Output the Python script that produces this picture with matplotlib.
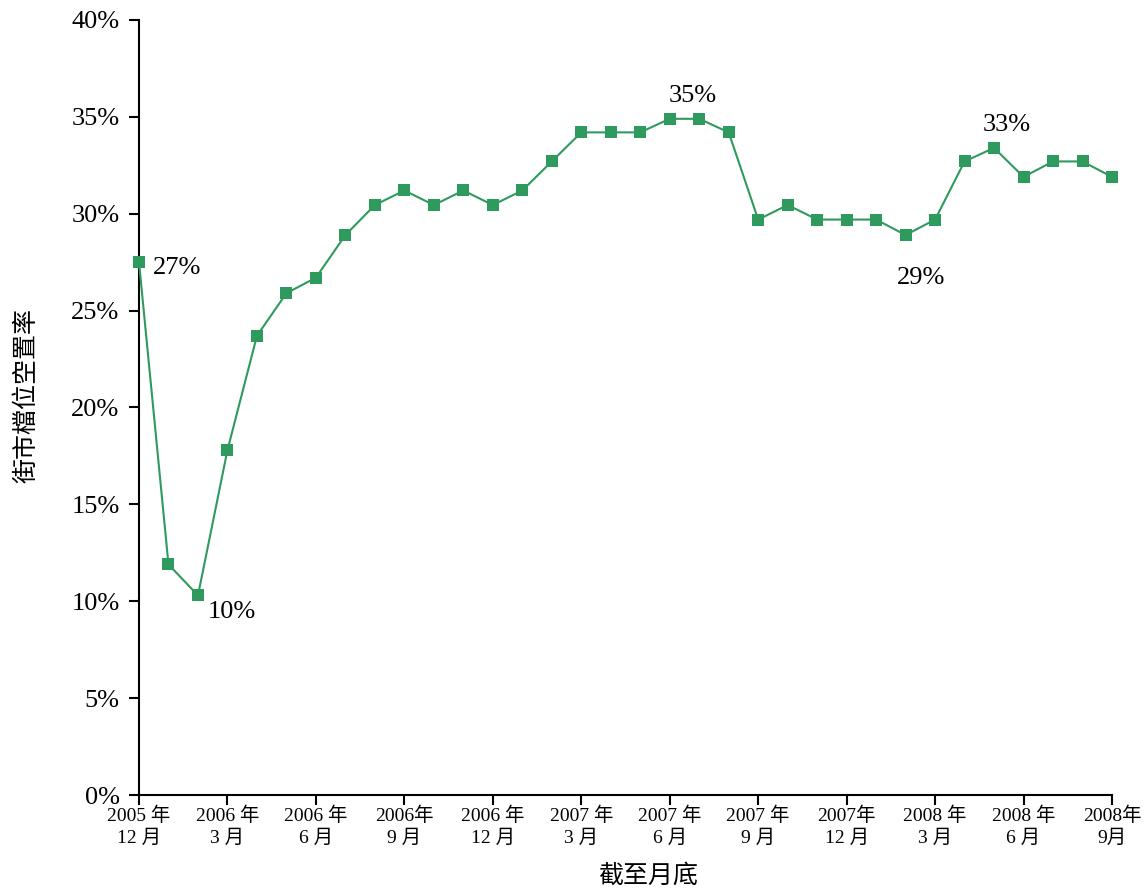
import matplotlib
matplotlib.use("Agg")
import matplotlib.pyplot as plt

fam = ['Liberation Serif', 'Noto Sans CJK TC']
plt.rcParams['font.family'] = fam

months = list(range(34))
vacancy = [27.5, 11.9, 10.3, 17.8, 23.7, 25.9, 26.7, 28.9, 30.45, 31.2,
           30.45, 31.2, 30.45, 31.2, 32.7, 34.2, 34.2, 34.2, 34.9, 34.9,
           34.2, 29.7, 30.45, 29.7, 29.7, 29.7, 28.9, 29.7, 32.7, 33.4,
           31.9, 32.7, 32.7, 31.9]
tick_pos = [0, 3, 6, 9, 12, 15, 18, 21, 24, 27, 30, 33]
tick_labels = ["2005 年\n12 月", "2006 年\n3 月", "2006 年\n6 月", "2006年\n9 月",
               "2006 年\n12 月", "2007 年\n3 月", "2007 年\n6 月", "2007 年\n9 月",
               "2007年\n12 月", "2008 年\n3 月", "2008 年\n6 月", "2008年\n9月"]
annot_idx = [0, 2, 18, 26, 29]
annot_txt = ["27%", "10%", "35%", "29%", "33%"]

color = '#2E9A5E'
W, H = 1147, 888
fig = plt.figure(figsize=(11.47, 8.88), dpi=100)
ax = fig.add_axes([139/W, 1-795/H, (1112-139)/W, (795-20)/H])
ax.plot(months, vacancy, color=color, lw=1.5, marker='s', markersize=8.3,
        markeredgewidth=0, clip_on=False, zorder=3)
ax.set_xlim(0, 33)
ax.set_ylim(0, 40)
ax.set_yticks(range(0, 41, 5))
ax.set_yticklabels([f"{v}%" for v in range(0, 41, 5)], fontsize=19)
ax.set_xticks(tick_pos)
ax.set_xticklabels(tick_labels, fontsize=14, linespacing=1.35)
for s in ['top', 'right']:
    ax.spines[s].set_visible(False)
for s in ['left', 'bottom']:
    ax.spines[s].set_linewidth(1.5)
ax.tick_params(axis='both', direction='out', width=1.5, length=7, color='black')
ax.tick_params(axis='y', pad=7)
ax.tick_params(axis='x', pad=1)

offsets = [(14, -6, 'left'), (10, -17, 'left'), (23, 23, 'center'),
           (15, -43, 'center'), (13, 23, 'center')]
for i, txt, (dx, dy, ha) in zip(annot_idx, annot_txt, offsets):
    ax.annotate(txt, (i, vacancy[i]), xytext=(dx, dy), textcoords='offset pixels',
                ha=ha, va='center', fontsize=19)

fig.text(27/W, 1-395/H, "街市檔位空置率", fontsize=18, rotation=90,
         ha='center', va='center')
fig.text(648/W, 1-876/H, "截至月底", fontsize=18, ha='center', va='center')
fig.savefig("out.png", dpi=100)
